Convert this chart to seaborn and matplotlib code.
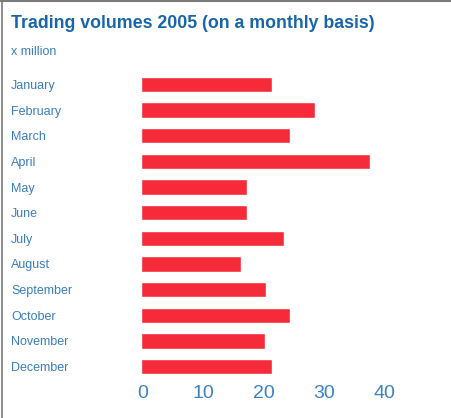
import matplotlib
matplotlib.use("Agg")
import matplotlib.pyplot as plt
import matplotlib.transforms as mtransforms
from matplotlib.lines import Line2D
import seaborn as sns
import pandas as pd

# Data (x million)
months = ["January", "February", "March", "April", "May", "June", "July",
          "August", "September", "October", "November", "December"]
volumes = [21.6, 28.8, 24.6, 37.9, 17.5, 17.5, 23.6, 16.5, 20.7, 24.6, 20.5, 21.6]
xticks = [0, 10, 20, 30, 40]

df = pd.DataFrame({"month": months, "volume": volumes})

sns.set_theme(style="white")
plt.rcParams["font.family"] = ["Liberation Sans", "DejaVu Sans"]

W, H = 452, 418
fig = plt.figure(figsize=(W / 100, H / 100), dpi=100)
# axes placed in pixel terms
left, right = 141, 413
top, bottom = 71.7, 379.3
ax = fig.add_axes([left / W, 1 - bottom / H, (right - left) / W, (bottom - top) / H])

sns.barplot(data=df, x="volume", y="month", orient="h", color="#f52b3a",
            saturation=1, width=0.6, ax=ax)

ax.set_xlim(0, 45)
ax.set_ylim(11.5, -0.5)
for s in ax.spines.values():
    s.set_visible(False)
ax.set_xlabel("")
ax.set_ylabel("")
ax.set_xticks(xticks)
ax.set_xticklabels([str(t) for t in xticks], color="#3c82c4", fontsize=14)
ax.tick_params(axis="x", length=0, pad=4)
ax.tick_params(axis="y", length=0, pad=93.6, labelsize=9, labelcolor="#3a7ebf")
for lbl in ax.get_yticklabels():
    lbl.set_horizontalalignment("left")
# tick numbers sit a touch right of the bar baseline in the original
shift = mtransforms.ScaledTranslation(2 / 100, 0, fig.dpi_scale_trans)
for lbl in ax.get_xticklabels():
    lbl.set_transform(lbl.get_transform() + shift)

fig.text(11 / W, 1 - 23 / H, "Trading volumes 2005 (on a monthly basis)",
         fontsize=12.8, fontweight="bold", color="#1866a9", va="center", ha="left")
fig.text(11 / W, 1 - 52 / H, "x million", fontsize=9, color="#3a7ebf",
         va="center", ha="left")

# gray frame on the top and left edges
fig.add_artist(Line2D([0, 1], [1 - 1 / H, 1 - 1 / H], color="#7a7a7a", lw=1.5,
                      transform=fig.transFigure))
fig.add_artist(Line2D([2.5 / W, 2.5 / W], [0, 1], color="#7a7a7a", lw=1.2,
                      transform=fig.transFigure))

fig.savefig("out.png", dpi=100)
